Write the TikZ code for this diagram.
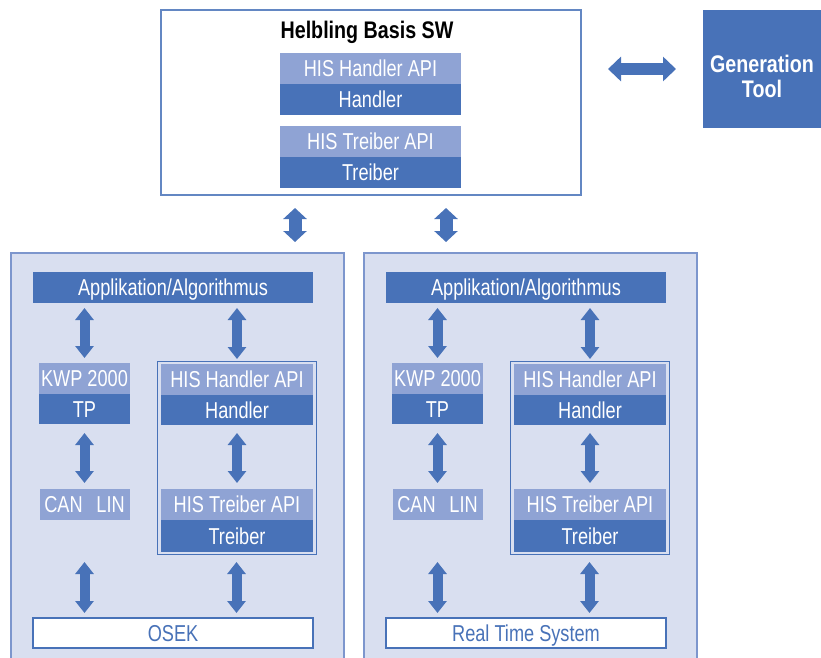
\documentclass[tikz,border=0pt]{standalone}
\usepackage{fontspec}
\newfontfamily\cond{Liberation Sans}[FakeStretch=0.79]
\newfontfamily\condb{Liberation Sans}[FakeStretch=0.82]
\usetikzlibrary{arrows.meta}
\definecolor{dkblue}{RGB}{72,114,184}
\definecolor{ltblue}{RGB}{143,163,212}
\definecolor{bgblue}{RGB}{217,223,240}
\definecolor{frblue}{RGB}{125,150,205}
\tikzset{
  blk/.style={inner sep=0pt, outer sep=0pt, text=white,
    font=\cond\fontsize{23}{27}\selectfont, text height=16.4pt, text depth=0pt},
  dark/.style={blk, fill=dkblue},
  light/.style={blk, fill=ltblue},
  whitebox/.style={blk, fill=white, draw=dkblue, line width=1.2pt, text=dkblue},
  bigbox/.style={fill=bgblue, draw=frblue, line width=1.5pt, inner sep=0pt, outer sep=0pt},
  frame/.style={draw=dkblue, line width=1pt, inner sep=0pt, outer sep=0pt},
  dbl/.style={draw=dkblue, line width=10pt,
    {Triangle[width=18pt,length=12pt]}-{Triangle[width=18pt,length=12pt]}},
  dblbig/.style={draw=dkblue, line width=13pt,
    {Triangle[width=23pt,length=11pt]}-{Triangle[width=23pt,length=11pt]}},
  dblh/.style={draw=dkblue, line width=12pt,
    {Triangle[width=24pt,length=13pt]}-{Triangle[width=24pt,length=13pt]}},
}
\begin{document}
\begin{tikzpicture}[x=1pt,y=-1pt]
\useasboundingbox (0,0) rectangle (821,657);
% top box
\node[draw=dkblue!85, line width=2pt, fill=white, minimum width=420pt, minimum height=185pt, inner sep=0pt, outer sep=0pt] (top) at (371,102.5) {};
\node[font=\condb\bfseries\fontsize{24}{28}\selectfont, text height=17.2pt, text depth=0pt, inner sep=0pt] (title) at (367,30) {Helbling Basis SW};
\node[light, minimum width=181pt, minimum height=31pt] (thha) at (370.5,68.5) {HIS Handler API};
\node[dark, minimum width=181pt, minimum height=31pt] (than) at (370.5,99.5) {Handler};
\node[light, minimum width=181pt, minimum height=31pt] (thta) at (370.5,141.5) {HIS Treiber API};
\node[dark, minimum width=181pt, minimum height=31pt] (ttre) at (370.5,172.5) {Treiber};
% generation tool
\node[fill=dkblue, minimum width=120pt, minimum height=118pt, inner sep=0pt, outer sep=0pt] (gen) at (763,69) {};
\node[text=white, font=\condb\bfseries\fontsize{24}{25}\selectfont, align=center, inner sep=0pt] (gent) at (762,76) {Generation\\Tool};
\draw[dblh, shorten <=27pt, shorten >=27pt] (top.east |- gen.west) -- (gen.west);
% big boxes
\node[bigbox, minimum width=333pt, minimum height=414pt] (L) at (177.5,460) {};
\node[bigbox, minimum width=333pt, minimum height=414pt] (R) at (530.5,460) {};
\coordinate (ax1) at (295,0);
\coordinate (ax2) at (446,0);
\draw[dblbig, shorten <=13pt, shorten >=11pt] (top.south -| ax1) -- (L.north -| ax1);
\draw[dblbig, shorten <=13pt, shorten >=11pt] (top.south -| ax2) -- (R.north -| ax2);
% contents
\foreach \p/\dx/\os in {l/0/OSEK, r/353/Real Time System}{
  \begin{scope}[xshift=\dx pt]
  \node[dark, minimum width=280pt, minimum height=31pt] (app\p) at (173,287.5) {Applikation/Algorithmus};
  \node[light, minimum width=91pt, minimum height=31pt] (kwp\p) at (84.5,378.5) {KWP 2000};
  \node[dark, minimum width=91pt, minimum height=30pt] (tp\p) at (84.5,409) {TP};
  \node[frame, minimum width=159pt, minimum height=193pt] (fr\p) at (236.5,457.5) {};
  \node[light, minimum width=152pt, minimum height=31pt] (hha\p) at (237,379.5) {HIS Handler API};
  \node[dark, minimum width=152pt, minimum height=30pt] (han\p) at (237,410) {Handler};
  \node[light, minimum width=90pt, minimum height=31pt] (can\p) at (84.5,504.5) {CAN\hspace{0.6em}LIN};
  \node[light, minimum width=152pt, minimum height=31pt] (hta\p) at (237,504.5) {HIS Treiber API};
  \node[dark, minimum width=152pt, minimum height=32pt] (tre\p) at (237,536) {Treiber};
  \node[whitebox, minimum width=280pt, minimum height=30pt] (os\p) at (173,633) {\os};
  \draw[dbl, shorten <=5pt, shorten >=5pt] (app\p.south -| kwp\p.north) -- (kwp\p.north);
  \draw[dbl, shorten <=5pt, shorten >=5pt] (app\p.south -| hha\p.north) -- (hha\p.north);
  \draw[dbl, shorten <=9pt, shorten >=6pt] (tp\p) -- (can\p);
  \draw[dbl, shorten <=8pt, shorten >=6pt] (han\p) -- (hta\p);
  \draw[dbl, shorten <=42pt, shorten >=5pt] (can\p.south) -- (os\p.north -| can\p.south);
  \draw[dbl, shorten <=8pt, shorten >=5pt] (fr\p.south) -- (os\p.north -| fr\p.south);
  \end{scope}
}
\end{tikzpicture}
\end{document}
